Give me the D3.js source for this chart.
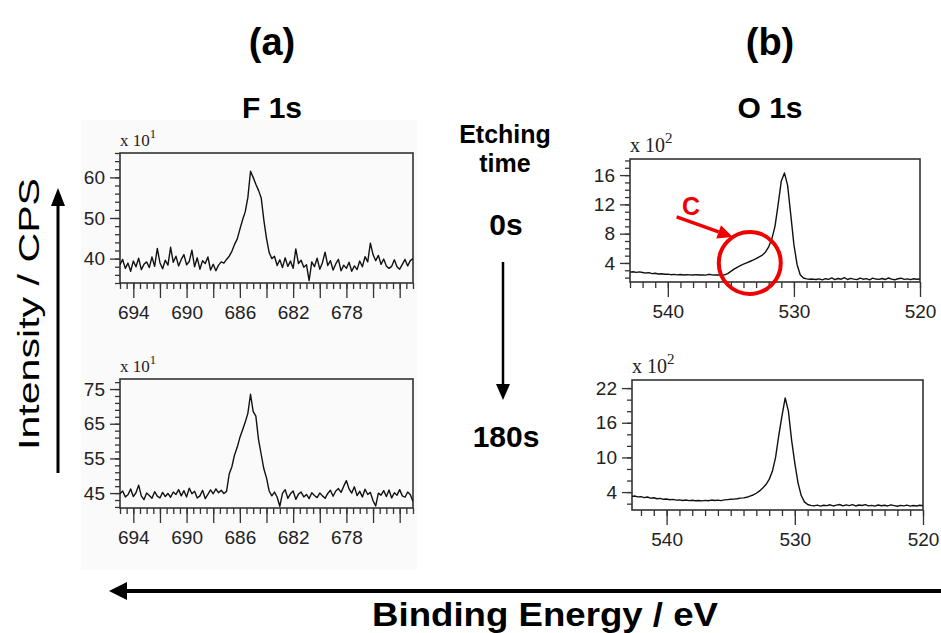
<!DOCTYPE html>
<html>
<head>
<meta charset="utf-8">
<script src="https://cdn.jsdelivr.net/npm/d3@7/dist/d3.min.js"></script>
<style>
  body { margin: 0; background: #fff; }
  svg { display: block; }
</style>
</head>
<body>
<div id="chart"></div>
<script>
// ---- spectra ----
// F 1s: binding energy grid 695 -> 673 eV, 0.2 eV step, intensity in x10 CPS
const fStart = 695, fStep = 0.2;
const f1s0s = [
  38.5, 39.8, 37.6, 38.9, 36.9, 39.4, 38.0, 40.1, 37.3, 38.6,
  39.2, 37.8, 40.4, 38.1, 42.5, 39.0, 37.5, 39.6, 38.4, 42.8,
  39.1, 40.6, 38.2, 39.8, 41.0, 38.5, 39.3, 42.1, 38.0, 40.2,
  37.4, 39.5, 38.8, 40.4, 37.2, 38.6, 37.0, 38.4, 39.2, 38.9,
  39.8, 40.6, 41.8, 43.5, 44.8, 47.2, 49.5, 51.5, 55.0, 61.5,
  60.0, 58.3, 56.8, 55.0, 49.5, 45.0, 41.5, 40.0, 40.6, 38.3,
  39.7, 37.8, 40.2, 38.1, 39.4, 37.6, 42.4, 38.8, 39.6, 37.9,
  38.5, 34.6, 39.2, 38.0, 40.1, 37.4, 39.0, 41.6, 38.3, 39.5,
  37.2, 38.7, 39.8, 37.0, 38.4, 37.6, 39.1, 36.9, 38.2, 37.3,
  39.4, 38.0, 40.5, 39.2, 43.8, 41.0, 39.5, 40.8, 38.6, 39.9,
  38.2, 37.6, 38.1, 39.7, 38.0, 37.4, 38.6, 39.8, 38.2, 39.5, 40.0
];
const f1s180s = [
  44.8, 45.6, 43.9, 44.5, 46.2, 44.0, 45.1, 47.3, 44.2, 43.1,
  45.0, 44.3, 43.5, 45.4, 44.1, 43.6, 45.2, 44.0, 44.9, 43.8,
  45.3, 44.6, 46.0, 44.2, 45.7, 43.9, 46.4, 44.8, 45.5, 43.6,
  44.2, 45.8, 43.4, 44.6, 45.9, 44.8, 46.2, 45.1, 45.8, 44.9,
  45.5, 50.5, 52.6, 56.0, 58.2, 61.0, 63.2, 65.4, 68.0, 73.5,
  68.5, 67.2, 60.5, 56.2, 52.0, 49.4, 45.6, 44.2, 45.3, 43.8,
  41.2, 44.9, 46.0, 43.5, 44.8, 45.6, 43.2, 44.7, 45.3, 43.9,
  44.6, 43.4, 45.1, 44.3, 43.7, 45.0, 44.2, 43.5, 44.9, 45.8,
  44.1, 45.6, 46.3, 45.2, 47.0, 48.6, 46.2, 45.0, 46.8, 44.3,
  45.5, 43.9, 46.1, 44.6, 45.2, 42.8, 41.3, 45.0, 44.4, 45.7,
  44.0, 45.9, 43.6, 45.1, 44.4, 46.0, 44.2, 43.8, 45.3, 44.5, 42.6
];
// O 1s: binding energy grid 543 -> 520 eV, 0.25 eV step, intensity in x100 CPS
const oStart = 543, oStep = 0.25;
const o1s0s = [
  2.75, 2.80, 2.72, 2.78, 2.70, 2.62, 2.68, 2.55, 2.60, 2.50,
  2.52, 2.45, 2.48, 2.40, 2.44, 2.38, 2.42, 2.36, 2.40, 2.38,
  2.35, 2.40, 2.36, 2.38, 2.34, 2.45, 2.37, 2.36, 2.38, 2.35,
  2.38, 2.55, 2.85, 3.15, 3.40, 3.62, 3.85, 4.02, 4.20, 4.38,
  4.58, 4.82, 5.08, 5.50, 6.20, 7.30, 9.00, 12.0, 15.2, 16.3,
  14.6, 10.6, 6.50, 3.80, 2.40, 1.95, 1.82, 1.78, 1.80, 1.75,
  1.82, 1.70, 1.85, 1.76, 1.95, 1.72, 1.88, 1.78, 2.00, 1.74,
  1.90, 1.80, 1.72, 1.94, 1.78, 1.86, 1.70, 1.92, 1.80, 1.76,
  1.88, 1.74, 1.95, 1.79, 1.70, 1.84, 1.92, 1.76, 1.82, 1.73,
  1.85, 1.78, 1.80
];
const o1s180s = [
  3.30, 3.25, 3.32, 3.18, 3.22, 3.05, 3.15, 2.95, 3.02, 2.85,
  2.92, 2.75, 2.80, 2.68, 2.74, 2.60, 2.66, 2.55, 2.62, 2.52,
  2.58, 2.50, 2.55, 2.48, 2.56, 2.50, 2.62, 2.54, 2.60, 2.52,
  2.65, 2.70, 2.75, 2.78, 2.85, 2.95, 3.00, 3.10, 3.30, 3.50,
  3.80, 4.20, 4.70, 5.30, 6.20, 7.60, 10.0, 13.8, 17.2, 20.3,
  18.0, 13.0, 9.00, 5.60, 3.40, 2.30, 1.85, 1.70, 1.62, 1.75,
  1.58, 1.72, 1.65, 1.80, 1.60, 1.74, 1.85, 1.62, 1.78, 1.66,
  1.82, 1.60, 1.76, 1.68, 1.84, 1.62, 1.70, 1.58, 1.76, 1.64,
  1.72, 1.60, 1.78, 1.66, 1.55, 1.70, 1.62, 1.74, 1.58, 1.68,
  1.60, 1.72, 1.65
];

// tick labels
const fXLabels = [694, 690, 686, 682, 678];
const oXLabels = [540, 530, 520];
const f0sYLabels = [40, 50, 60];
const f180sYLabels = [45, 55, 65, 75];
const o0sYLabels = [4, 8, 12, 16];
const o180sYLabels = [4, 10, 16, 22];

// shoulder marked "C" on O 1s (0s): energy, intensity
const shoulderC = { e: 533.5, v: 4.0 };
const labelC = { e: 538.15, v: 11.8 };
const arrowC = { e0: 539.3, v0: 10.3, e1: 534.85, v1: 7.55 };

const W = 941, H = 633;
const sans = "'Liberation Sans', Arial, sans-serif";

const svg = d3.select("#chart").append("svg")
  .attr("width", W).attr("height", H)
  .style("font-family", sans);

// faint grey backdrop of the pasted F 1s spectra
svg.append("rect")
  .attr("x", 81).attr("y", 120).attr("width", 336).attr("height", 450)
  .attr("fill", "#fafafa");

const panels = [
  { id: "fa", box: [120, 153, 413, 283], xd: [695, 673], yd: [34, 66],
    start: fStart, step: fStep, values: f1s0s, xLabels: fXLabels,
    xMajor: d3.range(694, 673, -2), xMinor: d3.range(695, 672.9, -0.5),
    yLabels: f0sYLabels, yMinor: d3.range(34, 67, 2), exp: "1", fs: 17, tfs: 19 },
  { id: "fb", box: [120, 379, 413, 508], xd: [695, 673], yd: [40.7, 77.9],
    start: fStart, step: fStep, values: f1s180s, xLabels: fXLabels,
    xMajor: d3.range(694, 673, -2), xMinor: d3.range(695, 672.9, -0.5),
    yLabels: f180sYLabels, yMinor: d3.range(41, 78, 2), exp: "1", fs: 17, tfs: 19 },
  { id: "oa", box: [630, 159, 920, 282], xd: [543, 520], yd: [1.4, 18.2],
    start: oStart, step: oStep, values: o1s0s, xLabels: oXLabels,
    xMajor: oXLabels, xMinor: d3.range(543, 519.9, -1),
    yLabels: o0sYLabels, yMinor: d3.range(2, 19, 1), exp: "2", fs: 20, tfs: 19 },
  { id: "ob", box: [632, 380, 923, 510], xd: [542.7, 520], yd: [0.9, 23.4],
    start: oStart, step: oStep, values: o1s180s, xLabels: oXLabels,
    xMajor: oXLabels, xMinor: d3.range(542, 519.9, -1),
    yLabels: o180sYLabels, yMinor: d3.range(2, 23, 2), exp: "2", fs: 20, tfs: 19 }
];

panels.forEach(p => {
  const [l, t, r, b] = p.box;
  const x = d3.scaleLinear().domain(p.xd).range([l, r]);
  const y = d3.scaleLinear().domain(p.yd).range([b, t]);
  p.x = x; p.y = y;

  const g = svg.append("g");

  svg.append("clipPath").attr("id", "clip-" + p.id)
    .append("rect").attr("x", l).attr("y", t).attr("width", r - l).attr("height", b - t);

  // x axis: minor and major ticks
  const styleAxis = sel => {
    sel.select(".domain").remove();
    sel.selectAll("line").attr("stroke", "#333").attr("stroke-width", 1.3);
    sel.selectAll("text").attr("fill", "#222").style("font-family", sans).style("font-size", p.tfs + "px");
  };
  g.append("g").attr("transform", `translate(0,${b})`)
    .call(d3.axisBottom(x).tickValues(p.xMinor).tickSize(6).tickFormat(""))
    .call(styleAxis);
  g.append("g").attr("transform", `translate(0,${b})`)
    .call(d3.axisBottom(x).tickValues(p.xMajor).tickSize(15).tickPadding(8)
      .tickFormat(d => p.xLabels.includes(d) ? d : ""))
    .call(styleAxis);

  // y axis
  g.append("g").attr("transform", `translate(${l},0)`)
    .call(d3.axisLeft(y).tickValues(p.yMinor).tickSize(5).tickFormat(""))
    .call(styleAxis);
  g.append("g").attr("transform", `translate(${l},0)`)
    .call(d3.axisLeft(y).tickValues(p.yLabels).tickSize(10).tickPadding(5))
    .call(styleAxis);

  // frame
  g.append("rect")
    .attr("x", l).attr("y", t).attr("width", r - l).attr("height", b - t)
    .attr("fill", "none").attr("stroke", "#333").attr("stroke-width", 1.6);

  // multiplier "x 10^n"
  const m = g.append("text")
    .attr("x", l).attr("y", t - 7)
    .style("font-family", "'Liberation Serif', 'Times New Roman', serif")
    .style("font-size", p.fs + "px").attr("fill", "#222");
  m.append("tspan").text("x 10");
  m.append("tspan").attr("dy", -p.fs * 0.45).style("font-size", (p.fs * 0.75) + "px").text(p.exp);

  // spectrum
  const line = d3.line()
    .x((d, i) => x(p.start - i * p.step))
    .y(d => y(d));
  g.append("path")
    .datum(p.values)
    .attr("clip-path", `url(#clip-${p.id})`)
    .attr("fill", "none")
    .attr("stroke", "#111")
    .attr("stroke-width", 1.4)
    .attr("stroke-linejoin", "round")
    .attr("d", line);
});

// ---- red annotation on O 1s (0s) ----
const pO = panels[2];
const red = "#f00000";
svg.append("circle")
  .attr("cx", pO.x(shoulderC.e)).attr("cy", pO.y(shoulderC.v)).attr("r", 31)
  .attr("fill", "none").attr("stroke", red).attr("stroke-width", 4);
svg.append("text")
  .attr("x", pO.x(labelC.e)).attr("y", pO.y(labelC.v) + 9)
  .attr("text-anchor", "middle").attr("fill", red)
  .style("font-weight", "bold").style("font-size", "25px").text("C");
{
  const x0 = pO.x(arrowC.e0), y0 = pO.y(arrowC.v0);
  const x1 = pO.x(arrowC.e1), y1 = pO.y(arrowC.v1);
  const ang = Math.atan2(y1 - y0, x1 - x0);
  const hl = 15, hw = 7;
  const bx = x1 - hl * Math.cos(ang), by = y1 - hl * Math.sin(ang);
  svg.append("line").attr("x1", x0).attr("y1", y0).attr("x2", bx).attr("y2", by)
    .attr("stroke", red).attr("stroke-width", 3.5);
  svg.append("path")
    .attr("d", `M${x1},${y1}L${bx - hw * Math.sin(ang)},${by + hw * Math.cos(ang)}L${bx + hw * Math.sin(ang)},${by - hw * Math.cos(ang)}Z`)
    .attr("fill", red);
}

// ---- headings ----
const bold = (txt, x, y, size) => svg.append("text")
  .attr("x", x).attr("y", y).attr("text-anchor", "middle")
  .style("font-weight", "bold").style("font-size", size + "px")
  .attr("fill", "#000").text(txt);

bold("(a)", 272, 55, 38);
bold("(b)", 770, 55, 38);
bold("F 1s", 272, 118, 30);
bold("O 1s", 770, 118, 30);
bold("Etching", 505, 143, 25);
bold("time", 505, 172, 25);
bold("0s", 506, 235, 30);
bold("180s", 506, 447, 30);

// etching-time arrow
svg.append("line").attr("x1", 503).attr("y1", 262).attr("x2", 503).attr("y2", 386)
  .attr("stroke", "#000").attr("stroke-width", 2.5);
svg.append("path").attr("d", "M503,400L496,384L510,384Z").attr("fill", "#000");

// intensity arrow + label
svg.append("line").attr("x1", 58).attr("y1", 473).attr("x2", 58).attr("y2", 204)
  .attr("stroke", "#000").attr("stroke-width", 3);
svg.append("path").attr("d", "M58,188L51,206L65,206Z").attr("fill", "#000");
svg.append("text")
  .attr("transform", "translate(39,314) rotate(-90)")
  .attr("text-anchor", "middle")
  .attr("textLength", 272).attr("lengthAdjust", "spacingAndGlyphs")
  .style("font-size", "30px").attr("fill", "#000")
  .text("Intensity / CPS");

// binding energy arrow + label
svg.append("line").attr("x1", 124).attr("y1", 591).attr("x2", 941).attr("y2", 591)
  .attr("stroke", "#000").attr("stroke-width", 4);
svg.append("path").attr("d", "M109,591L127,582L127,600Z").attr("fill", "#000");
svg.append("text")
  .attr("x", 545).attr("y", 626).attr("text-anchor", "middle")
  .attr("textLength", 346).attr("lengthAdjust", "spacingAndGlyphs")
  .style("font-weight", "bold").style("font-size", "34px").attr("fill", "#000")
  .text("Binding Energy / eV");
</script>
</body>
</html>
